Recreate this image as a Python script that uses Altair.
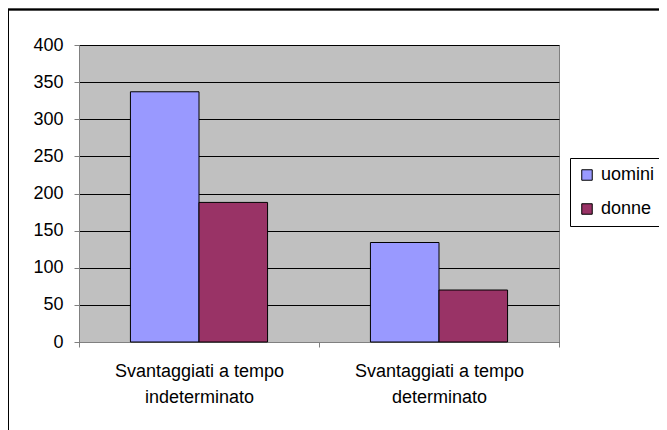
import altair as alt
import pandas as pd

categories = ["Svantaggiati a tempo indeterminato", "Svantaggiati a tempo determinato"]
series = ["uomini", "donne"]
uomini = [337, 134]
donne = [188, 70]
colors = ["#9999FF", "#993366"]
y_ticks = [0, 50, 100, 150, 200, 250, 300, 350, 400]

rows = []
for c, u, d in zip(categories, uomini, donne):
    rows.append({"cat": c, "serie": "uomini", "val": u})
    rows.append({"cat": c, "serie": "donne", "val": d})
df = pd.DataFrame(rows)

FONT = "Liberation Sans"
FS = 18
W, H = 480, 297
PL, PT = 71, 37

bars = alt.Chart(df).mark_bar(stroke="black", strokeWidth=1).encode(
    x=alt.X("cat:N", sort=categories, title=None,
            scale=alt.Scale(paddingInner=0, paddingOuter=0),
            axis=alt.Axis(labelAngle=0, tickBand="extent", domainColor="#808080",
                          tickColor="#808080", tickSize=5, labelPadding=15,
                          labelFont=FONT, labelFontSize=FS, labelColor="black",
                          labelLineHeight=26, labelBaseline="top",
                          labelExpr="[slice(datum.label, 0, 20), slice(datum.label, 21)]")),
    xOffset=alt.XOffset("serie:N", sort=series,
                        scale=alt.Scale(paddingOuter=0.75, paddingInner=0)),
    y=alt.Y("val:Q", title=None,
            scale=alt.Scale(domain=[0, 400], nice=False),
            axis=alt.Axis(values=y_ticks, grid=True, gridColor="black", gridOpacity=1,
                          domainColor="#808080", tickColor="#808080", tickSize=5,
                          labelPadding=11, labelFont=FONT, labelFontSize=FS,
                          labelColor="black")),
    color=alt.Color("serie:N", sort=series,
                    scale=alt.Scale(domain=series, range=colors),
                    legend=alt.Legend(title=None, orient="none", legendX=491, legendY=113,
                                      strokeColor="black", fillColor="white", padding=8,
                                      symbolType="square", symbolSize=110,
                                      symbolStrokeColor="black", symbolStrokeWidth=1,
                                      labelFont=FONT, labelFontSize=FS, labelColor="black",
                                      rowPadding=16, labelOffset=5)),
)

frame_left = alt.Chart(df).mark_rule(color="black", strokeWidth=1).encode(
    x=alt.value(-PL + 0.5), y=alt.value(-PT + 1), y2=alt.value(H + 100)
)
frame_top = alt.Chart(df).mark_rule(color="black", strokeWidth=1.5).encode(
    x=alt.value(-PL), x2=alt.value(W + 120), y=alt.value(-PT + 1.5)
)

chart = alt.layer(bars, frame_left, frame_top).properties(
    width=W, height=H,
    autosize=alt.AutoSizeParams(type="none"),
    padding={"left": PL, "top": PT, "right": 651 - PL - W, "bottom": 422 - PT - H},
    background="white",
).configure_view(fill="#C0C0C0", stroke="#808080", strokeWidth=1)

chart.save("out.html", embed_options={"renderer": "svg", "actions": False})
